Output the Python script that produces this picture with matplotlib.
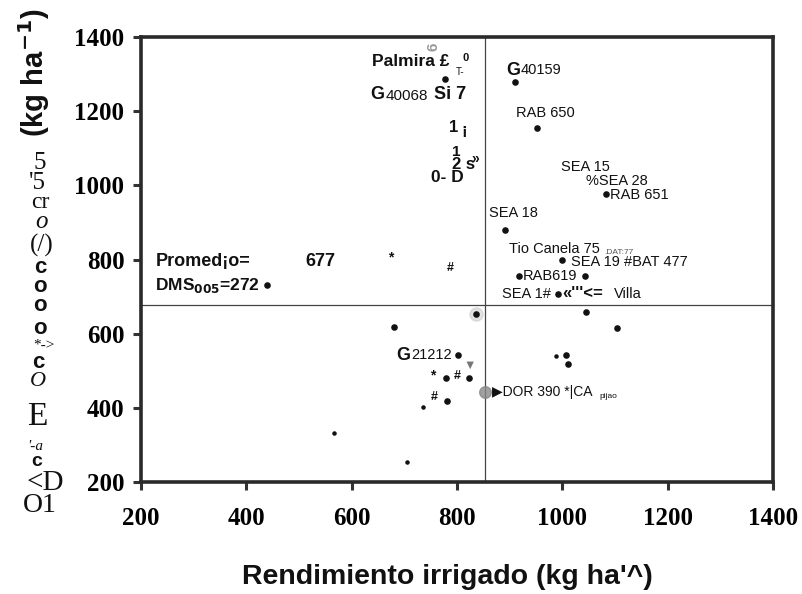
import numpy as np
import matplotlib.pyplot as plt

# yields (kg/ha) under irrigation (x) and rainfed (y)
riego = [777, 909, 952, 1083, 890, 1000, 918, 1042, 992, 1045, 439, 835, 681,
         802, 778, 823, 781, 1104, 1007, 1011]
secano = [1287, 1279, 1155, 977, 880, 799, 755, 755, 707, 658, 731, 653, 618,
          542, 480, 480, 418, 615, 542, 518]
riego_chico = [736, 705, 567, 988]
secano_chico = [402, 254, 332, 540]
dor_x, dor_y = 853, 443

prom_x = 852
prom_y = 677
dms = 272

SANS = 'Liberation Sans'
SERIF = 'Liberation Serif'

fig = plt.figure(figsize=(8.02, 5.94), dpi=100)
ax = fig.add_axes([0.176, 0.1886, 0.788, 0.749])

ax.scatter(riego, secano, s=14, color='#111111', zorder=3)
ax.scatter(riego_chico, secano_chico, s=5, color='#111111', zorder=3)
ax.scatter([dor_x], [dor_y], s=70, color='#888888', alpha=0.8, zorder=3)
ax.scatter([835], [653], s=90, color='#cccccc', alpha=0.6, zorder=2)

ax.axvline(prom_x, color='#444444', lw=0.9, zorder=1)
ax.axhline(prom_y, color='#444444', lw=0.9, zorder=1)

ax.set_xlim(200, 1400)
ax.set_ylim(200, 1400)
ticks = [200, 400, 600, 800, 1000, 1200, 1400]
ax.set_xticks(ticks)
ax.set_yticks(ticks)
ax.set_xticklabels([str(t) for t in ticks], fontfamily=SERIF, fontweight='bold', fontsize=18)
ax.set_yticklabels([str(t) for t in ticks], fontfamily=SERIF, fontweight='bold', fontsize=18)
ax.tick_params(axis='both', direction='out', length=6, width=2.2, color='#333333', pad=6)
ax.tick_params(axis='x', pad=12)
for sp in ax.spines.values():
    sp.set_linewidth(2.6)
    sp.set_color('#2a2a2a')

fig.text(447 / 802, 1 - 577 / 594, "Rendimiento irrigado (kg ha'^)", fontfamily=SANS,
         fontweight='bold', fontsize=20.5, ha='center', va='center', color='#111111')

# point labels
def lab(x, y, s, size=10.5, weight='normal', color='#111111', **kw):
    ax.text(x, y, s, fontsize=size, fontweight=weight, color=color,
            family=[SANS, 'DejaVu Sans'], va='center', ha='left', **kw)

lab(639, 1333, 'Palmira £', size=12.5, weight='bold')
lab(810, 1343, '0', size=8, weight='bold')
lab(798, 1305, 'T-', size=7)
lab(742, 1374, '6', size=11, weight='bold', color='#999999', rotation=90)
lab(635, 1244, 'G', size=13, weight='bold')
lab(664, 1242, '40068', size=11)
lab(756, 1244, 'Si 7', size=13, weight='bold')
lab(784, 1157, '1', size=12, weight='bold')
lab(808, 1148, '¡', size=12, weight='bold')
lab(790, 1090, '1', size=11, weight='bold')
lab(790, 1057, '2 s', size=12, weight='bold')
lab(827, 1072, '»', size=10, weight='bold')
lab(750, 1022, '0- D', size=12.5, weight='bold')

lab(893, 1311, 'G', size=13, weight='bold')
lab(920, 1311, '40159', size=10.5)
lab(912, 1195, 'RAB 650')
lab(998, 1050, 'SEA 15')
lab(1045, 1012, '%SEA 28')
lab(1090, 974, 'RAB 651')
lab(861, 925, 'SEA 18')
lab(899, 828, 'Tio Canela 75')
lab(1080, 818, '.DAT:77', size=6, color='#555555')
lab(1017, 793, 'SEA 19 #BAT 477')
lab(924, 755, 'RAB619')
lab(886, 707, 'SEA 1#')
lab(1000, 707, "«'''<=", size=12, weight='bold')
lab(1097, 707, 'Villa')

lab(227, 796, 'Promed¡o=', size=13, weight='bold')
lab(512, 796, str(prom_y), size=13, weight='bold')
lab(227, 731, 'DMS$_{\\mathbf{005}}$=' + str(dms), size=12.5, weight='bold')
lab(669, 806, '*', size=10, weight='bold')
lab(780, 777, '#', size=9, weight='bold')

lab(684, 542, 'G', size=13, weight='bold')
lab(712, 542, '21212', size=10.5)
lab(748, 487, '*', size=10, weight='bold')
lab(794, 487, '#', size=9, weight='bold')
lab(750, 428, '#', size=9, weight='bold')
lab(812, 512, '▼', size=9, color='#777777')
lab(866, 443, '▶DOR 390 *|CA', size=10)
lab(1070, 430, 'pijao', size=6)

# y-axis title
fig.text(34 / 802, 1 - 73 / 594, '(kg ha$^{\\mathbf{-1}}$)', rotation=90, ha='center', va='center',
         fontsize=21, fontweight='bold', fontfamily=SANS, color='#111111')
glyphs = [
    ('5', 40, 163, SERIF, 'normal', 'normal', 18),
    ("'5", 37, 183, SERIF, 'normal', 'normal', 18),
    ('cr', 40, 203, SERIF, 'normal', 'normal', 17),
    ('o', 42, 222, SERIF, 'normal', 'italic', 18),
    ('(/)', 42, 245, SERIF, 'normal', 'normal', 18),
    ('c', 40, 268, SANS, 'bold', 'normal', 16),
    ('o', 40, 287, SANS, 'bold', 'normal', 16),
    ('o', 40, 305, SANS, 'bold', 'normal', 16),
    ('o', 40, 329, SANS, 'bold', 'normal', 16),
    ('*->', 44, 345, SERIF, 'normal', 'normal', 11),
    ('c', 38, 363, SANS, 'bold', 'normal', 16),
    ('O', 38, 381, SERIF, 'normal', 'italic', 16),
    ('E', 37, 417, SERIF, 'normal', 'normal', 24),
    ("'-a", 35, 447, SERIF, 'normal', 'italic', 11),
    ('c', 37, 462, SANS, 'bold', 'normal', 14),
    ('<D', 45, 483, SERIF, 'normal', 'normal', 21),
    ('O1', 40, 505, SERIF, 'normal', 'normal', 20),
]
for s, px, py, fam, wt, st, sz in glyphs:
    fig.text(px / 802, 1 - py / 594, s, ha='center', va='center', fontsize=sz,
             fontweight=wt, fontstyle=st, fontfamily=fam, color='#111111')

fig.savefig('out.png', dpi=100, facecolor='white')
